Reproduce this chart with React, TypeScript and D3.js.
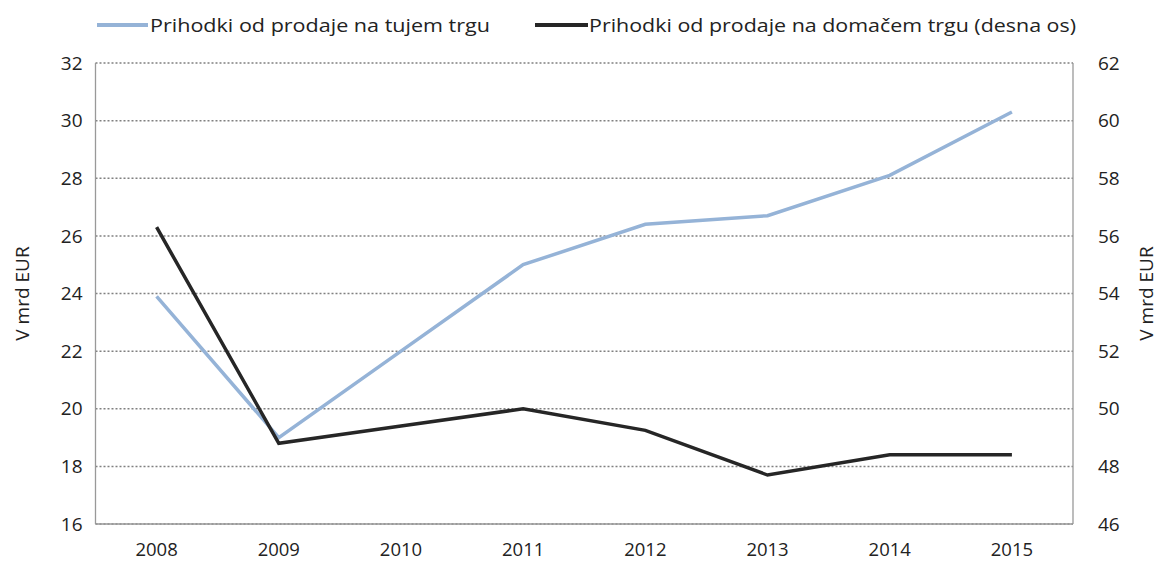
import React from "react";
import * as d3 from "d3";

const years = ["2008", "2009", "2010", "2011", "2012", "2013", "2014", "2015"];
const foreignSales = [23.9, 19.0, 22.0, 25.0, 26.4, 26.7, 28.1, 30.3];
const domesticSales = [56.3, 48.8, 49.4, 50.0, 49.25, 47.7, 48.4, 48.4];
const leftTicks = [16, 18, 20, 22, 24, 26, 28, 30, 32];
const rightTicks = [46, 48, 50, 52, 54, 56, 58, 60, 62];
const seriesNames = [
  "Prihodki od prodaje na tujem trgu",
  "Prihodki od prodaje na domačem trgu (desna os)",
];
const axisTitle = "V mrd EUR";

const W = 1159;
const H = 563;
const m = { left: 95.5, right: 1073, top: 63, bottom: 524 };
const FONT = "'Open Sans', sans-serif";

export default function App() {
  const x = d3.scaleBand().domain(years).range([m.left, m.right]);
  const yL = d3.scaleLinear().domain([16, 32]).range([m.bottom, m.top]);
  const yR = d3.scaleLinear().domain([46, 62]).range([m.bottom, m.top]);
  const cx = (d: string) => (x(d) as number) + x.bandwidth() / 2;
  const lineL = d3.line<number>().x((_, i) => cx(years[i])).y((d) => yL(d));
  const lineR = d3.line<number>().x((_, i) => cx(years[i])).y((d) => yR(d));

  return (
    <svg width={W} height={H} style={{ position: "absolute", left: 0, top: 0, background: "#fff" }}>
      {leftTicks.map((t) => (
        <line key={"g" + t} x1={m.left} x2={m.right} y1={yL(t)} y2={yL(t)}
          stroke="#808080" strokeWidth={1.5} strokeDasharray="2,2" />
      ))}
      <line x1={m.left} x2={m.left} y1={m.top} y2={m.bottom} stroke="#999" strokeWidth={1.3} />
      <line x1={m.right} x2={m.right} y1={m.top} y2={m.bottom} stroke="#999" strokeWidth={1.3} />
      <line x1={m.left} x2={m.right} y1={m.bottom} y2={m.bottom} stroke="#999" strokeWidth={1.3} />
      {leftTicks.map((t) => (
        <text key={"l" + t} x={m.left - 13} y={yL(t)} dy="0.35em" textAnchor="end"
          fontFamily={FONT} fontSize={19} fill="#222">{t}</text>
      ))}
      {rightTicks.map((t) => (
        <text key={"r" + t} x={m.right + 25} y={yR(t)} dy="0.35em" textAnchor="start"
          fontFamily={FONT} fontSize={19} fill="#222">{t}</text>
      ))}
      {years.map((yv) => (
        <text key={"x" + yv} x={cx(yv)} y={550} dy="0.35em" textAnchor="middle"
          fontFamily={FONT} fontSize={18.5} fill="#222">{yv}</text>
      ))}
      <text transform={`translate(22,${(m.top + m.bottom) / 2}) rotate(-90)`} textAnchor="middle"
        dy="0.35em" fontFamily={FONT} fontSize={19} fill="#222">{axisTitle}</text>
      <text transform={`translate(1146,${(m.top + m.bottom) / 2}) rotate(-90)`} textAnchor="middle"
        dy="0.35em" fontFamily={FONT} fontSize={19} fill="#222">{axisTitle}</text>
      <path d={lineL(foreignSales) || ""} fill="none" stroke="#95b3d7" strokeWidth={3.5} />
      <path d={lineR(domesticSales) || ""} fill="none" stroke="#262626" strokeWidth={3.5} />
      <line x1={97} x2={148} y1={25} y2={25} stroke="#95b3d7" strokeWidth={4} />
      <text x={150} y={25} dy="0.35em" fontFamily={FONT} fontSize={19} fill="#222"
        textLength={340} lengthAdjust="spacingAndGlyphs">{seriesNames[0]}</text>
      <line x1={535} x2={588} y1={25} y2={25} stroke="#262626" strokeWidth={4} />
      <text x={589} y={25} dy="0.35em" fontFamily={FONT} fontSize={19} fill="#222"
        textLength={487} lengthAdjust="spacingAndGlyphs">{seriesNames[1]}</text>
    </svg>
  );
}
